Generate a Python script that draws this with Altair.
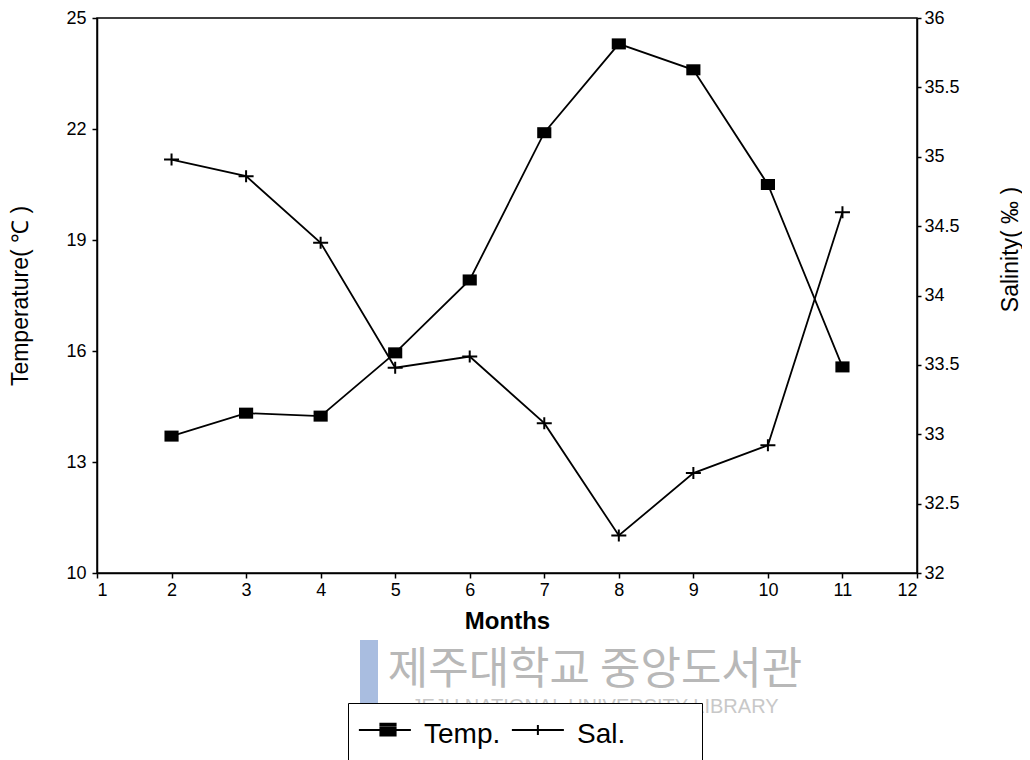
import altair as alt
import pandas as pd

# ---- data ----
months = [2, 3, 4, 5, 6, 7, 8, 9, 10, 11]
temp = [13.70, 14.32, 14.24, 15.95, 17.92, 21.90, 24.30, 23.60, 20.50, 15.57]
sal = [34.98, 34.86, 34.38, 33.48, 33.56, 33.08, 32.27, 32.72, 32.92, 34.60]
x_ticks = [1, 2, 3, 4, 5, 6, 7, 8, 9, 10, 11, 12]
temp_ticks = [10, 13, 16, 19, 22, 25]
sal_ticks = [32, 32.5, 33, 33.5, 34, 34.5, 35, 35.5, 36]
series = ["Temp.", "Sal."]
legend_domain = series + [" "]

FONT = "Liberation Sans"

df = pd.DataFrame({"Month": months, "Temp": temp, "Sal": sal})
leg_df = pd.DataFrame({"Month": [months[0], months[0]],
                       "Temp": [temp[0], temp[0]],
                       "series": series})

SQUARE = "M-1,-0.78H1V0.78H-1Z"
CROSS = "M-1,0H1M0,-0.8V0.8"
# legend glyphs (stroke only): a line with a solid block, a line with a tick
_hatch = "".join(f"M0.17,{y:.3f}H0.83" for y in
                 [-0.95, -0.88, -0.80, -0.72, -0.64, -0.57, -0.50])
LEG_TEMP = "M-0.62,-0.71H1.38" + _hatch
LEG_SAL = "M-0.62,-0.71H1.38M0.38,-0.90V-0.52"
LEG_NONE = "M0,-1.25L0,-1.25M0,1.25L0,1.25"

x_enc = alt.X("Month:Q",
              scale=alt.Scale(domain=[1, 12], nice=False, zero=False),
              axis=alt.Axis(values=x_ticks, title="Months", format="d",
                            tickSize=5, labelPadding=3, titlePadding=10,
                            titleFontSize=24, titleFontWeight="bold"))

y_temp = alt.Y("Temp:Q",
               scale=alt.Scale(domain=[10, 25], nice=False, zero=False),
               axis=alt.Axis(values=temp_ticks, title="Temperature( ℃ )",
                             orient="left", tickSize=5, labelPadding=6,
                             titlePadding=33, titleFontSize=23,
                             titleFontWeight="normal"))

y_sal = alt.Y("Sal:Q",
              scale=alt.Scale(domain=[32, 36], nice=False, zero=False),
              axis=alt.Axis(values=sal_ticks, title="Salinity( ‰ )",
                            orient="right", tickSize=4, labelPadding=3,
                            format=".1~f",
                            titlePadding=40, titleFontSize=23,
                            titleFontWeight="normal", titleAngle=270,
                            titleBaseline="top", titleY=231))

base_t = alt.Chart(df).encode(x=x_enc, y=y_temp)
line_t = base_t.mark_line(color="black", strokeWidth=1.8)
pts_t = base_t.mark_point(shape=SQUARE, size=200, filled=True,
                          color="black", opacity=1)

legend_layer = alt.Chart(leg_df).mark_point(
    filled=False, color="black", strokeWidth=2, opacity=0
).encode(
    x="Month:Q",
    y="Temp:Q",
    shape=alt.Shape("series:N",
                    scale=alt.Scale(domain=legend_domain,
                                    range=[LEG_TEMP, LEG_SAL, LEG_NONE]),
                    legend=alt.Legend(
                        orient="none", legendX=251, legendY=685,
                        direction="horizontal", title=None,
                        symbolSize=2704, symbolStrokeWidth=2,
                        symbolStrokeColor="black",
                        symbolOpacity=1, labelFont=FONT, labelFontSize=28,
                        labelBaseline="bottom",
                        labelColor="black", labelOffset=22, columnPadding=0,
                        padding=0, strokeColor="black", fillColor="white")),
)

base_s = alt.Chart(df).encode(x=alt.X("Month:Q"), y=y_sal)
line_s = base_s.mark_line(color="black", strokeWidth=1.8)
pts_s = base_s.mark_point(shape=CROSS, size=225, filled=False,
                          color="black", strokeWidth=2, opacity=1)

# watermark (library stamp)
wm1 = alt.Chart(pd.DataFrame({"t": ["제주대학교 중앙도서관"]})).mark_text(
    font="Noto Sans CJK KR", fontSize=44, color="#b8b8b8", align="center",
    baseline="middle").encode(x=alt.value(498), y=alt.value(653), text="t:N")
wm2 = alt.Chart(pd.DataFrame({"t": ["JEJU NATIONAL UNIVERSITY  LIBRARY"]})).mark_text(
    font=FONT, fontSize=20, color="#c8c8c8", align="center",
    baseline="middle").encode(x=alt.value(498), y=alt.value(689), text="t:N")
wm_bar = alt.Chart(pd.DataFrame({"a": [0]})).mark_rect(color="#a9bde0").encode(
    x=alt.value(263), x2=alt.value(281), y=alt.value(622), y2=alt.value(695))

temp_layer = alt.layer(line_t, pts_t, legend_layer)
sal_layer = alt.layer(line_s, pts_s)

chart = alt.layer(wm_bar, wm1, wm2, temp_layer, sal_layer).resolve_scale(
    y="independent"
).properties(
    width=820, height=555,
    autosize=alt.AutoSizeParams(type="none"),
    padding={"left": 89, "top": 10, "right": 105, "bottom": 200},
).configure_view(
    stroke="black", strokeWidth=1.5
).configure_axis(
    grid=False, domainColor="black", domainWidth=1.5, tickColor="black",
    tickWidth=1.5, labelFont=FONT, labelFontSize=18, labelColor="black",
    titleFont=FONT, titleColor="black"
)

chart.save("out.html", embed_options={"renderer": "svg", "actions": False})
